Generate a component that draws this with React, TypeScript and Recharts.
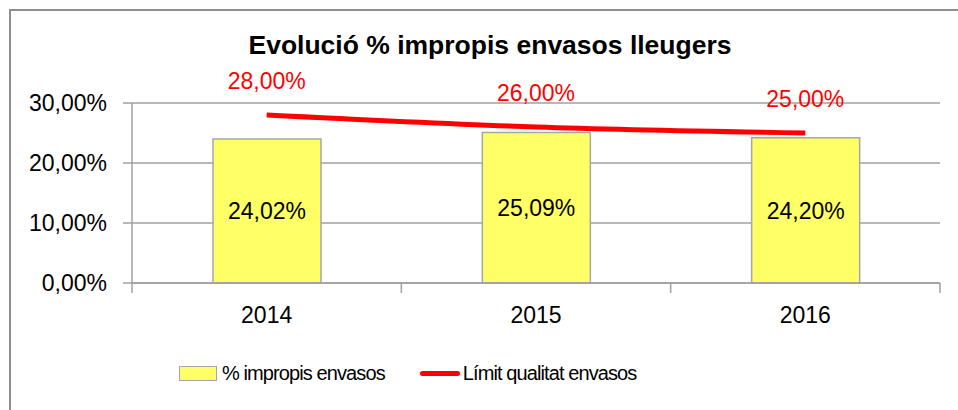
import React from "react";
import {
  ComposedChart,
  Bar,
  Line,
  XAxis,
  YAxis,
  CartesianGrid,
  LabelList,
} from "recharts";

// Evolució impropis envasos lleugers (2014-2016)
const years = ["2014", "2015", "2016"];
const impropis = [24.02, 25.09, 24.2];
const limit = [28, 26, 25];
const yTicks = [0, 10, 20, 30];

const data = years.map((year, i) => ({
  year,
  impropis: impropis[i],
  limit: limit[i],
}));

const FONT = "'Liberation Sans', Arial, sans-serif";
const GRID = "#a0a0a0";
const X_TICK_MARGIN = 24;

const pct = (v: any) => `${Number(v).toFixed(2).replace(".", ",")}%`;

// year label plus the tick marks between categories (excel style)
const YearTick = (props: any) => {
  const { x, y, payload, index, visibleTicksCount, width } = props;
  const band = width / visibleTicksCount;
  const axisY = y - X_TICK_MARGIN;
  const isLast = index === visibleTicksCount - 1;
  return (
    <g>
      <line
        x1={x - band / 2}
        x2={x - band / 2}
        y1={axisY}
        y2={axisY + 10}
        stroke={GRID}
        strokeWidth={1.5}
      />
      {isLast && (
        <line
          x1={x + band / 2}
          x2={x + band / 2}
          y1={axisY}
          y2={axisY + 10}
          stroke={GRID}
          strokeWidth={1.5}
        />
      )}
      <text
        x={x}
        y={y}
        dy="0.71em"
        textAnchor="middle"
        fill="#000"
        fontSize={23}
        fontFamily={FONT}
      >
        {payload.value}
      </text>
    </g>
  );
};

export default function App() {
  return (
    <div
      style={{
        position: "absolute",
        left: 0,
        top: 0,
        width: 958,
        height: 410,
        overflow: "hidden",
        background: "#fff",
        fontFamily: FONT,
      }}
    >
      {/* outer chart frame */}
      <div
        style={{
          position: "absolute",
          left: 9,
          top: 9,
          width: 980,
          height: 440,
          border: "2px solid #8e8e8e",
        }}
      ></div>

      <div
        style={{
          position: "absolute",
          left: 0,
          top: 30,
          width: 980,
          textAlign: "center",
          fontSize: 26.5,
          fontWeight: "bold",
          color: "#000",
        }}
      >
        Evolució % impropis envasos lleugers
      </div>

      <div style={{ position: "absolute", left: 0, top: 0 }}>
        <ComposedChart
          width={958}
          height={410}
          data={data}
          margin={{ top: 103, right: 18, bottom: 87, left: 0 }}
        >
          <CartesianGrid vertical={false} stroke={GRID} strokeWidth={1.5} />
          <XAxis
            dataKey="year"
            axisLine={{ stroke: GRID, strokeWidth: 1.5 }}
            tickLine={false}
            tickSize={0}
            tick={<YearTick />}
            tickMargin={X_TICK_MARGIN}
            height={40}
          />
          <YAxis
            domain={[0, 30]}
            ticks={yTicks}
            tickFormatter={pct}
            width={132}
            axisLine={{ stroke: GRID, strokeWidth: 1.5 }}
            tickLine={{ stroke: GRID, strokeWidth: 1.5 }}
            tickSize={9}
            tickMargin={16}
            tick={{ fill: "#000", fontSize: 23, fontFamily: FONT }}
          />
          <Bar
            dataKey="impropis"
            name="% impropis envasos"
            fill="#ffff66"
            stroke="#a6a6a6"
            strokeWidth={1.5}
            barSize={108}
            isAnimationActive={false}
          >
            <LabelList
              dataKey="impropis"
              position="center"
              formatter={pct}
              fill="#000"
              fontSize={23}
              fontFamily={FONT}
            />
          </Bar>
          <Line
            type="monotone"
            dataKey="limit"
            name="Límit qualitat envasos"
            stroke="#ff0000"
            strokeWidth={5}
            dot={false}
            isAnimationActive={false}
          >
            <LabelList
              dataKey="limit"
              position="top"
              offset={26}
              formatter={pct}
              fill="#ff0000"
              fontSize={23}
              fontFamily={FONT}
            />
          </Line>
        </ComposedChart>
      </div>

      {/* legend */}
      <div
        style={{
          position: "absolute",
          left: 179,
          top: 362,
          display: "flex",
          alignItems: "center",
          fontSize: 20,
          letterSpacing: -0.9,
          color: "#000",
        }}
      >
        <div
          style={{
            width: 36,
            height: 13,
            background: "#ffff66",
            border: "1.5px solid #a6a6a6",
            marginRight: 5,
          }}
        ></div>
        <span>% impropis envasos</span>
        <div
          style={{
            width: 40,
            height: 5,
            borderRadius: 3,
            background: "#ff0000",
            marginLeft: 35,
            marginRight: 3,
          }}
        ></div>
        <span>Límit qualitat envasos</span>
      </div>
    </div>
  );
}
